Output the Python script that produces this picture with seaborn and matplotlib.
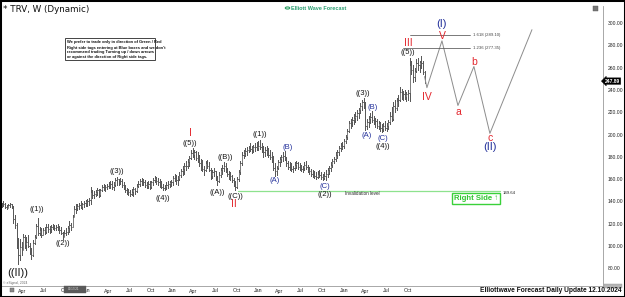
import matplotlib
matplotlib.use("Agg")
import matplotlib.pyplot as plt
import matplotlib.dates as mdates
from matplotlib.patches import Rectangle
import pandas as pd
import seaborn as sns

# ---------------- data (weekly bars from 2020-01-06) ----------------
start_week = "2020-01-06"
highs = [
    139, 140, 139, 137, 138, 139, 138, 136, 128, 121, 107, 106, 104,
    111, 110, 108, 110, 103, 98, 105, 110, 120, 125, 117, 116, 116,
    117, 120, 120, 118, 119, 120, 119, 119, 120, 118, 117, 113, 114,
    116, 118, 122, 121, 128, 136, 138, 138, 139, 140, 139, 140, 141,
    142, 143, 153, 150, 149, 150, 152, 151, 151, 155, 156, 155, 156,
    157, 158, 158, 157, 161, 162, 160, 161, 160, 157, 155, 152, 151,
    150, 151, 153, 152, 156, 158, 160, 161, 160, 159, 157, 158, 158,
    158, 161, 163, 162, 161, 160, 158, 156, 155, 157, 158, 158, 159,
    163, 165, 164, 163, 166, 169, 172, 174, 176, 178, 181, 186, 188,
    186, 185, 184, 182, 178, 177, 172, 176, 177, 175, 170, 168, 170,
    167, 163, 166, 170, 173, 175, 174, 170, 167, 166, 164, 161, 158,
    162, 168, 176, 184, 186, 188, 189, 190, 192, 190, 191, 192, 193,
    194, 195, 192, 190, 189, 190, 188, 186, 184, 181, 174, 172, 177,
    180, 182, 184, 185, 180, 176, 175, 174, 172, 175, 176, 175, 174,
    173, 172, 175, 176, 173, 171, 169, 168, 167, 166, 167, 168, 166,
    165, 166, 168, 170, 172, 175, 178, 180, 184, 186, 190, 192, 193,
    196, 200, 205, 212, 214, 216, 218, 220, 222, 224, 228, 231, 233,
    229, 214, 217, 219, 221, 217, 215, 214, 212, 211, 209, 210, 212,
    210, 213, 220, 225, 229, 231, 233, 235, 243, 241, 239, 240, 238,
    240, 269, 266, 262, 260, 268, 269, 266, 270, 266, 257,
]
lows = [
    135, 136, 134, 133, 134, 135, 134, 121, 116, 98, 84, 87, 92,
    96, 98, 96, 99, 93, 88, 91, 102, 107, 110, 110, 108, 110,
    111, 112, 113, 112, 113, 115, 114, 114, 114, 112, 111, 106, 108,
    110, 111, 113, 114, 117, 126, 130, 132, 133, 134, 133, 135, 136,
    136, 137, 138, 143, 143, 145, 146, 144, 145, 149, 150, 149, 151,
    152, 152, 151, 150, 154, 155, 155, 156, 153, 151, 148, 147, 146,
    145, 146, 145, 147, 148, 153, 154, 155, 155, 153, 152, 152, 151,
    152, 155, 157, 156, 155, 153, 152, 150, 150, 151, 152, 153, 154,
    155, 158, 156, 155, 159, 162, 164, 165, 168, 170, 172, 178, 180,
    178, 177, 175, 172, 168, 167, 164, 167, 170, 167, 160, 161, 163,
    159, 155, 157, 162, 165, 167, 166, 163, 160, 159, 157, 154, 150,
    152, 158, 165, 173, 179, 181, 182, 184, 185, 183, 184, 185, 186,
    186, 187, 184, 180, 181, 182, 180, 178, 175, 168, 163, 164, 169,
    172, 175, 176, 177, 172, 169, 168, 167, 166, 168, 170, 169, 168,
    167, 166, 168, 169, 166, 165, 163, 162, 161, 160, 161, 162, 160,
    159, 160, 159, 162, 165, 167, 171, 174, 176, 179, 182, 185, 187,
    188, 192, 196, 202, 206, 208, 209, 211, 213, 215, 219, 222, 224,
    204, 205, 207, 210, 211, 209, 207, 206, 205, 203, 202, 203, 204,
    203, 205, 209, 212, 213, 220, 222, 226, 230, 232, 231, 232, 230,
    231, 230, 254, 247, 248, 256, 258, 256, 260, 254, 246,
]
closes = [
    137, 138, 135, 134, 137, 138, 136, 124, 119, 103, 92, 99, 96,
    108, 101, 104, 100, 95, 92, 103, 108, 118, 112, 114, 110, 114,
    113, 117, 115, 115, 117, 118, 116, 117, 116, 114, 112, 108, 112,
    113, 116, 119, 117, 126, 133, 134, 136, 137, 135, 138, 139, 140,
    140, 141, 148, 146, 147, 148, 150, 146, 150, 153, 152, 153, 154,
    155, 156, 153, 155, 159, 160, 157, 158, 155, 153, 150, 149, 148,
    147, 148, 151, 149, 154, 156, 158, 159, 157, 155, 154, 156, 153,
    157, 159, 161, 158, 157, 155, 153, 152, 153, 155, 156, 157, 157,
    161, 162, 159, 160, 164, 167, 169, 172, 172, 175, 179, 183, 182,
    184, 179, 177, 174, 175, 169, 168, 174, 172, 168, 163, 166, 167,
    161, 158, 164, 168, 170, 172, 168, 165, 162, 163, 159, 156, 153,
    160, 166, 174, 182, 183, 185, 186, 188, 187, 186, 189, 189, 188,
    190, 189, 186, 184, 186, 184, 182, 180, 177, 170, 167, 170, 175,
    178, 180, 181, 179, 174, 171, 172, 169, 170, 173, 174, 171, 172,
    169, 170, 173, 171, 168, 167, 165, 164, 163, 162, 165, 164, 162,
    161, 163, 165, 168, 170, 173, 176, 178, 182, 184, 188, 190, 190,
    194, 198, 203, 210, 211, 213, 215, 217, 219, 222, 226, 229, 228,
    208, 211, 214, 216, 213, 211, 212, 208, 210, 206, 205, 208, 206,
    208, 211, 217, 214, 226, 224, 230, 231, 238, 235, 236, 234, 236,
    237, 262, 258, 252, 257, 264, 262, 265, 264, 256, 247.89,
]
last_price = 247.89

# projected path (dates, prices)
proj_dates = ["2024-12-09", "2024-12-19", "2025-02-21", "2025-04-30",
              "2025-07-07", "2025-09-13", "2026-03-11"]
proj_prices = [252, 242, 284, 226, 261, 201, 294]

fib_names = ["1.618", "1.236"]
fib_levels = [289.10, 277.35]
fib_start = ["2024-10-08", "2024-09-08"]
fib_end = "2025-06-20"

inval_level = 149.64
inval_start, inval_end = "2022-10-07", "2025-10-26"

# wave labels: text, date, price, colour, size
RED, BLUE, BLK = "#e3262d", "#23309b", "#151515"
wave_labels = [
    ("((II))", "2020-03-14", 75.8, BLK, 8),
    ("((1))", "2020-06-03", 132.3, BLK, 5.5),
    ("((2))", "2020-09-22", 101.8, BLK, 5.5),
    ("((3))", "2021-05-10", 166.4, BLK, 5.5),
    ("((4))", "2021-11-22", 142.2, BLK, 5.5),
    ("((5))", "2022-03-17", 191.5, BLK, 5.5),
    ("I", "2022-03-17", 201.3, RED, 7.5),
    ("((A))", "2022-07-10", 148.4, BLK, 5.5),
    ("((B))", "2022-08-13", 179.0, BLK, 5.5),
    ("((C))", "2022-09-28", 144.8, BLK, 5.5),
    ("II", "2022-09-20", 137.7, RED, 7.5),
    ("((1))", "2023-01-09", 199.6, BLK, 5.5),
    ("(A)", "2023-03-14", 158.3, BLUE, 5.5),
    ("(B)", "2023-05-08", 187.9, BLUE, 5.5),
    ("(C)", "2023-10-12", 153.8, BLUE, 5.5),
    ("((2))", "2023-10-12", 146.6, BLK, 5.5),
    ("((3))", "2024-03-22", 237.2, BLK, 5.5),
    ("(A)", "2024-04-08", 198.7, BLUE, 5.5),
    ("(B)", "2024-05-04", 223.8, BLUE, 5.5),
    ("(C)", "2024-06-16", 196.0, BLUE, 5.5),
    ("((4))", "2024-06-16", 188.8, BLK, 5.5),
    ("((5))", "2024-09-30", 273.1, BLK, 5.5),
    ("III", "2024-09-30", 282.1, RED, 7.5),
    ("IV", "2024-12-19", 233.6, RED, 7.5),
    ("V", "2025-02-21", 288.3, RED, 7.5),
    ("(I)", "2025-02-21", 299.1, BLUE, 8),
    ("a", "2025-04-30", 220.2, RED, 7.5),
    ("b", "2025-07-07", 265.0, RED, 7.5),
    ("c", "2025-09-13", 196.9, RED, 7.5),
    ("(II)", "2025-09-13", 188.8, BLUE, 8),
]

y_ticks = list(range(80, 301, 20))
x_tick_dates = pd.date_range("2020-04-01", "2024-10-01", freq="QS")
month_names = {1: "Jan", 4: "Apr", 7: "Jul", 10: "Oct"}

# ---------------- build OHLC long table ----------------
dates = pd.date_range(start_week, periods=len(closes), freq="7D")
opens = [(highs[0] + lows[0]) / 2] + closes[:-1]
half = 2.3
rows = []
for k, d in enumerate(dates):
    t = mdates.date2num(d)
    path = [(t - half, opens[k]), (t, opens[k]), (t, lows[k]),
            (t, highs[k]), (t, closes[k]), (t + half, closes[k])]
    for j, (xx, yy) in enumerate(path):
        rows.append((k, j, xx, yy))
bars = pd.DataFrame(rows, columns=["week", "step", "x", "price"])

proj = pd.DataFrame({"x": mdates.date2num(pd.to_datetime(proj_dates)),
                     "price": proj_prices})

D = lambda s: mdates.date2num(pd.Timestamp(s))

# ---------------- figure ----------------
sns.set_theme(style="white")
plt.rcParams["font.family"] = ["Liberation Sans", "DejaVu Sans"]

W, H = 625, 297
fig = plt.figure(figsize=(W / 100, H / 100), dpi=100)
fig.patch.set_facecolor("white")
ax = fig.add_axes([1 / W, 11 / H, 602 / W, 280 / H])
ax.set_facecolor("white")

sns.lineplot(data=bars, x="x", y="price", units="week", estimator=None,
             sort=False, color="#595959", lw=0.55, ax=ax, legend=False)
sns.lineplot(data=proj, x="x", y="price", sort=False, color="#8c8c8c",
             lw=0.7, ax=ax, legend=False)

base = D(start_week)
ax.set_xlim(base - 3.4, base + 2558.3)
ax.set_ylim(64.13, 315.25)
ax.set_xlabel("")
ax.set_ylabel("")

# axes styling
for s in ["top", "left"]:
    ax.spines[s].set_visible(False)
for s in ["right", "bottom"]:
    ax.spines[s].set_color("#9a9a9a")
    ax.spines[s].set_linewidth(0.6)
ax.yaxis.tick_right()
ax.set_yticks(y_ticks)
ax.set_yticklabels([f"{v:.2f}" for v in y_ticks])
ax.tick_params(axis="y", length=0, pad=3.5, labelsize=3.6, colors="#222222")
ax.set_xticks(mdates.date2num(x_tick_dates))
ax.set_xticklabels([month_names[d.month] for d in x_tick_dates])
ax.tick_params(axis="x", length=0, pad=1.8, labelsize=3.8, colors="#222222")
ax.grid(False)

# fib levels
for name, lvl, st in zip(fib_names, fib_levels, fib_start):
    ax.plot([D(st), D(fib_end)], [lvl, lvl], color="#555555", lw=0.55)
    ax.text(D(fib_end) + 12, lvl, f"{name} ({lvl:.2f})", fontsize=3.1,
            color="#444444", va="center", ha="left")

# invalidation
ax.plot([D(inval_start), D(inval_end)], [inval_level, inval_level],
        color="#8ee28e", lw=0.9)
ax.text(D("2024-01-04"), 146.8, "Invalidation level", fontsize=3.3,
        color="#222222", va="center", ha="left")
ax.text(D("2025-11-08"), 147.5, f"{inval_level:.2f}", fontsize=3.1,
        color="#222222", va="center", ha="left")

# right side tag
ax.text(D("2025-07-16"), 143.0, "Right Side \u2191", fontsize=5.6,
        fontweight="bold", color="#2fc62f", ha="center", va="center",
        bbox=dict(boxstyle="square,pad=0.25", fc="white", ec="#3ad13a",
                  lw=1.0))

# wave labels
for txt, d, p, c, sz in wave_labels:
    ax.text(D(d), p, txt, color=c, fontsize=sz, ha="center", va="center")

# last price tag on right axis
ax.text(1.003, last_price, f"{last_price:.2f}",
        transform=ax.get_yaxis_transform(), fontsize=3.6, color="white",
        fontweight="bold", ha="left", va="center",
        bbox=dict(boxstyle="larrow,pad=0.15", fc="black", ec="black", lw=0.3))

# ---------------- figure-level decorations ----------------
def FX(x):
    return x / W


def FY(y):
    return 1 - y / H


fig.text(FX(3), FY(10), "* TRV, W (Dynamic)", fontsize=6.3,
         family=["DejaVu Sans"], color="#111111", ha="left", va="center")

# logo
fig.patches.append(plt.Circle((FX(287.5), FY(8)), 2.2 / W, transform=fig.transFigure,
                              fc="white", ec="#2a9e62", lw=0.8))
fig.text(FX(291), FY(8), "Elliott Wave Forecast", fontsize=4.0,
         fontweight="bold", color="#2a9e72", ha="left", va="center")

# top-right icon
fig.patches.append(Rectangle((FX(593), FY(11)), 5 / W, 5 / H,
                             transform=fig.transFigure, fc="#777777",
                             ec="#555555", lw=0.3))

# note box
fig.patches.append(Rectangle((FX(65), FY(60)), 90 / W, 22 / H,
                             transform=fig.transFigure, fc="white",
                             ec="#444444", lw=0.7))
note_lines = [
    "We prefer to trade only in direction of Green / Red",
    "Right side tags entering at Blue boxes and we don't",
    "recommend trading Turning up / down arrows",
    "or against the direction of Right side tags.",
]
for k, line in enumerate(note_lines):
    fig.text(FX(67), FY(42.5 + k * 5.0), line, fontsize=2.9,
             fontweight="bold", color="#111111", ha="left", va="center")

# bottom items
fig.text(FX(3), FY(283), "\u00a9 eSignal, 2024", fontsize=2.4, color="#666666",
         ha="left", va="center")
fig.patches.append(Rectangle((FX(10), FY(292)), 4 / W, 4 / H,
                             transform=fig.transFigure, fc="#888888",
                             ec="#555555", lw=0.3))
fig.patches.append(Rectangle((FX(64), FY(293)), 22 / W, 7 / H,
                             transform=fig.transFigure, fc="#5a5a5a",
                             ec="#5a5a5a", lw=0.3, zorder=5))
fig.text(FX(73.5), FY(289.5), "01/17/21", fontsize=2.2, color="#dddddd",
         ha="center", va="center", zorder=6)
fig.patches.append(Rectangle((FX(604), FY(288)), 18 / W, 4 / H,
                             transform=fig.transFigure, fc="#b5b5b5",
                             ec="#999999", lw=0.3))
fig.text(FX(621.5), FY(291), "Elliottwave Forecast Daily Update 12.10.2024",
         fontsize=4.8, fontweight="bold", color="#111111",
         ha="right", va="center")

# outer black frame
fig.patches.append(Rectangle((0, 0), 1, 1, transform=fig.transFigure,
                             fc="none", ec="black", lw=2.2))

fig.savefig("out.png", dpi=100, facecolor="white")
